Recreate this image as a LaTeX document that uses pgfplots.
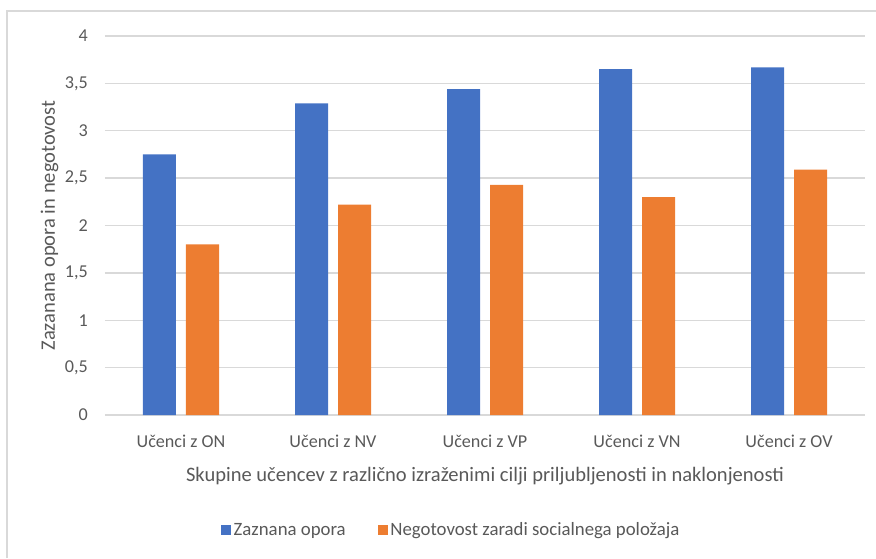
\documentclass[border=0pt]{standalone}
\usepackage{pgfplots}
\pgfplotsset{compat=1.18}
\usepackage{fontspec}
\setmainfont{Carlito}
\definecolor{cblue}{HTML}{4472C4}
\definecolor{corange}{HTML}{ED7D31}
\definecolor{gridc}{HTML}{D9D9D9}
\definecolor{txt}{HTML}{595959}
\begin{document}
\begin{tikzpicture}
\useasboundingbox (0,0) rectangle (657pt,418.5pt);
\draw[gridc, line width=1pt] (5.25pt,0) -- (5.25pt,410.25pt) -- (657pt,410.25pt);
\begin{axis}[
  at={(78.75pt,107.25pt)}, anchor=south west,
  scale only axis, width=570pt, height=284.25pt,
  ymin=0, ymax=4, ytick={0,0.5,...,4},
  xmin=-0.5, xmax=4.5, xtick={0,1,2,3,4},
  xticklabels={Učenci z ON, Učenci z NV, Učenci z VP, Učenci z VN, Učenci z OV},
  axis line style={draw=none},
  major tick length=0pt,
  ymajorgrids, grid style={gridc, line width=1pt},
  ybar=7.5pt, bar width=24.75pt,
  tick label style={font=\fontsize{13.6}{16}\selectfont, text=txt},
  /pgf/number format/use comma,
  /pgf/number format/assume math mode=true,
  yticklabel style={inner sep=0pt, anchor=east, xshift=-12.75pt},
  xticklabel style={inner sep=0pt, anchor=base, yshift=-24.5pt},
  xlabel={Skupine učencev z različno izraženimi cilji priljubljenosti in naklonjenosti},
  ylabel={Zazanana opora in negotovost},
  label style={font=\fontsize{15.4}{18}\selectfont, text=txt, inner sep=0pt},
  xlabel style={at={(axis description cs:0.5,0)}, anchor=base, yshift=-49.5pt},
  ylabel style={at={(axis description cs:-0.0658,0.5)}, rotate=0, anchor=base},
  legend style={at={(axis description cs:0.456,-0.3034)}, anchor=center, draw=none,
    font=\fontsize{14.1}{16}\selectfont, text=txt, legend columns=2,
    /tikz/every even column/.append style={column sep=22pt}},
  legend image code/.code={\fill[#1] (0pt,-3.75pt) rectangle (7.5pt,3.75pt);},
]
\addplot[fill=cblue, draw=none] coordinates {(0,2.75) (1,3.29) (2,3.44) (3,3.65) (4,3.67)};
\addplot[fill=corange, draw=none] coordinates {(0,1.80) (1,2.22) (2,2.43) (3,2.30) (4,2.59)};
\legend{Zaznana opora, Negotovost zaradi socialnega položaja}
\end{axis}
\end{tikzpicture}
\end{document}
